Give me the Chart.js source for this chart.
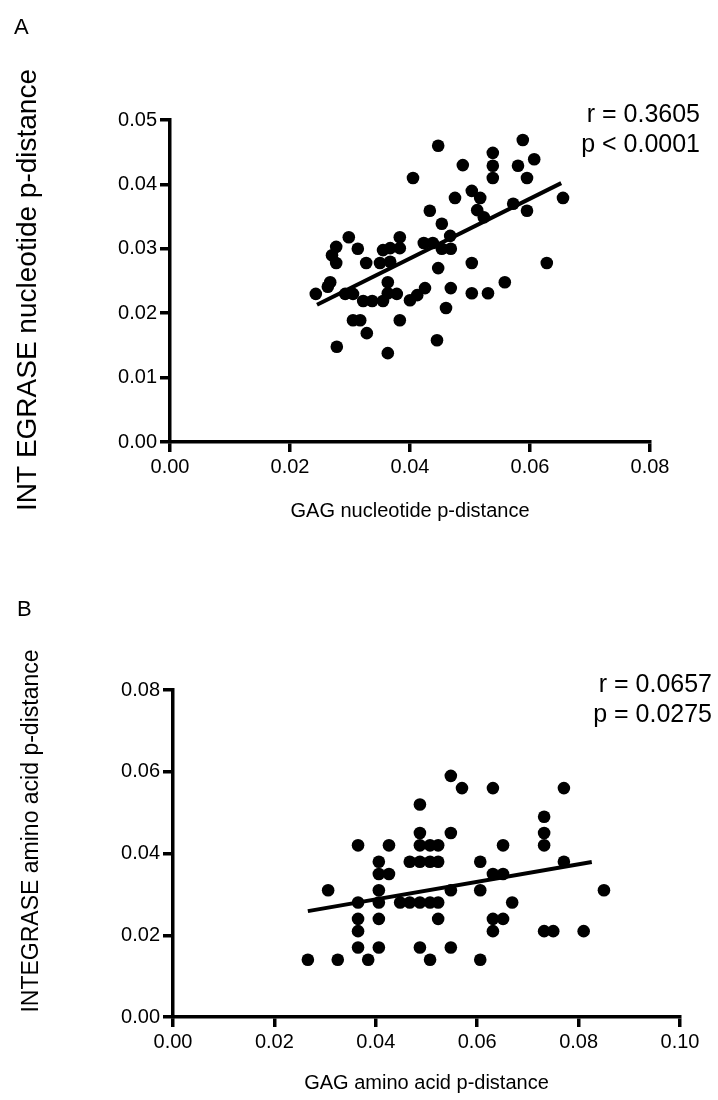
<!DOCTYPE html>
<html>
<head>
  <meta charset="utf-8">
  <title>GAG vs INTEGRASE p-distance</title>
  <script src="https://cdn.jsdelivr.net/npm/chart.js"></script>
  <style>
    body { margin: 0; background: #fff; }
    canvas { display: block; }
  </style>
</head>
<body>
  <canvas id="chartA" width="718" height="550"></canvas>
  <canvas id="chartB" width="718" height="550"></canvas>

  <script>
    // Panel A - nucleotide p-distance
    const gagNt = [0.0447, 0.0588, 0.0538, 0.0538, 0.0538, 0.0488, 0.0580, 0.0607, 0.0595, 0.0405,
      0.0503, 0.0517, 0.0475, 0.0433, 0.0512, 0.0523, 0.0572, 0.0595, 0.0655, 0.0453,
      0.0467, 0.0298, 0.0383, 0.0423, 0.0438, 0.0453, 0.0468, 0.0277, 0.0270, 0.0277,
      0.0313, 0.0327, 0.0355, 0.0367, 0.0383, 0.0350, 0.0367, 0.0503, 0.0628, 0.0447,
      0.0558, 0.0468, 0.0503, 0.0530, 0.0363, 0.0267, 0.0263, 0.0243, 0.0292, 0.0305,
      0.0322, 0.0337, 0.0355, 0.0363, 0.0378, 0.0400, 0.0412, 0.0425, 0.0460, 0.0305,
      0.0317, 0.0383, 0.0328, 0.0278, 0.0363, 0.0445];
    const intNt = [0.0460, 0.0469, 0.0449, 0.0429, 0.0410, 0.0430, 0.0429, 0.0439, 0.0410, 0.0410,
      0.0390, 0.0379, 0.0379, 0.0359, 0.0360, 0.0349, 0.0370, 0.0359, 0.0379, 0.0339,
      0.0320, 0.0318, 0.0318, 0.0309, 0.0309, 0.0300, 0.0300, 0.0303, 0.0290, 0.0278,
      0.0300, 0.0278, 0.0298, 0.0301, 0.0301, 0.0278, 0.0280, 0.0278, 0.0278, 0.0270,
      0.0248, 0.0239, 0.0231, 0.0231, 0.0248, 0.0248, 0.0241, 0.0230, 0.0230, 0.0230,
      0.0219, 0.0219, 0.0219, 0.0231, 0.0230, 0.0220, 0.0228, 0.0239, 0.0208, 0.0189,
      0.0189, 0.0189, 0.0169, 0.0148, 0.0138, 0.0158];
    const fitNtX = [0.0245, 0.0652];
    const fitNtY = [0.0213, 0.0402];
    const ticksNtX = [0, 0.02, 0.04, 0.06, 0.08];
    const ticksNtY = [0, 0.01, 0.02, 0.03, 0.04, 0.05];

    // Panel B - amino acid p-distance
    const gagAa = [0.0266, 0.0306, 0.0325, 0.0365, 0.0365, 0.0365, 0.0365, 0.0365, 0.0385, 0.0406,
      0.0406, 0.0406, 0.0406, 0.0406, 0.0406, 0.0426, 0.0426, 0.0448, 0.0467, 0.0467,
      0.0487, 0.0487, 0.0487, 0.0487, 0.0487, 0.0487, 0.0507, 0.0507, 0.0507, 0.0507,
      0.0523, 0.0523, 0.0523, 0.0523, 0.0548, 0.0548, 0.0548, 0.0548, 0.0570, 0.0606,
      0.0606, 0.0606, 0.0631, 0.0631, 0.0631, 0.0631, 0.0651, 0.0651, 0.0651, 0.0669,
      0.0732, 0.0732, 0.0732, 0.0732, 0.0750, 0.0771, 0.0771, 0.0810, 0.0850];
    const intAa = [0.014, 0.031, 0.014, 0.042, 0.028, 0.024, 0.021, 0.017, 0.014, 0.038,
      0.035, 0.031, 0.028, 0.024, 0.017, 0.042, 0.035, 0.028, 0.038, 0.028,
      0.052, 0.045, 0.042, 0.038, 0.028, 0.017, 0.042, 0.038, 0.028, 0.014,
      0.042, 0.038, 0.028, 0.024, 0.059, 0.045, 0.031, 0.017, 0.056, 0.038,
      0.031, 0.014, 0.056, 0.035, 0.024, 0.021, 0.042, 0.035, 0.024, 0.028,
      0.049, 0.045, 0.042, 0.021, 0.021, 0.056, 0.038, 0.021, 0.031];
    const fitAaX = [0.0266, 0.0826];
    const fitAaY = [0.0259, 0.0379];
    const ticksAaX = [0, 0.02, 0.04, 0.06, 0.08, 0.10];
    const ticksAaY = [0, 0.02, 0.04, 0.06, 0.08];

    const FONT = "'Liberation Sans', Arial, sans-serif";

    // panel letter, rotated y title and r / p annotation
    const panelText = {
      id: 'panelText',
      afterDraw(chart, args, o) {
        const ctx = chart.ctx;
        ctx.save();
        ctx.fillStyle = '#000';
        ctx.textAlign = 'left';
        ctx.font = `22px 'Liberation Sans Narrow', ${FONT}`;
        ctx.fillText(o.letter, o.letterX, o.letterY);
        ctx.textAlign = 'right';
        ctx.font = `25px ${FONT}`;
        o.lines.forEach((t, i) => ctx.fillText(t, o.statX, o.statY + i * o.statGap));
        ctx.translate(o.titleX, o.titleY);
        ctx.rotate(-Math.PI / 2);
        ctx.textAlign = 'center';
        ctx.textBaseline = 'middle';
        ctx.font = `${o.titleSize}px ${FONT}`;
        ctx.fillText(o.title, 0, 0);
        ctx.restore();
      }
    };

    function axis(min, max, ticks, title, titlePad, size, horizontal) {
      return {
        type: 'linear',
        min: min,
        max: max,
        afterBuildTicks: s => { s.ticks = ticks.map(v => ({ value: v })); },
        afterFit: s => { if (horizontal) s.height = size; else s.width = size; },
        border: { display: true, color: '#000', width: 3.5 },
        grid: { drawOnChartArea: false, drawTicks: true, tickLength: 10, color: '#000', lineWidth: 3.5 },
        ticks: {
          color: '#000',
          padding: 3,
          font: { family: FONT, size: 20 },
          callback: v => v.toFixed(2)
        },
        title: {
          display: horizontal,
          text: title,
          color: '#000',
          font: { family: FONT, size: 20 },
          padding: { top: 0, bottom: titlePad }
        }
      };
    }

    function makeChart(id, xs, ys, fx, fy, xAxis, yAxis, padding, text) {
      return new Chart(document.getElementById(id).getContext('2d'), {
        type: 'scatter',
        data: {
          datasets: [
            {
              data: xs.map((x, i) => ({ x: x, y: ys[i] })),
              backgroundColor: '#000',
              borderWidth: 0,
              pointRadius: 6.3
            },
            {
              type: 'line',
              data: fx.map((x, i) => ({ x: x, y: fy[i] })),
              borderColor: '#000',
              borderWidth: 4,
              pointRadius: 0,
              fill: false
            }
          ]
        },
        options: {
          responsive: false,
          animation: false,
          layout: { padding: padding },
          plugins: { legend: { display: false }, tooltip: { enabled: false }, panelText: text },
          scales: { x: xAxis, y: yAxis }
        },
        plugins: [panelText]
      });
    }

    makeChart('chartA', gagNt, intNt, fitNtX, fitNtY,
      axis(0, 0.08, ticksNtX, 'GAG nucleotide p-distance', 27, 108, true),
      axis(0, 0.05, ticksNtY, '', 0, 170, false),
      { top: 120, right: 68, left: 0, bottom: 0 },
      { letter: 'A', letterX: 14, letterY: 34, lines: ['r = 0.3605', 'p < 0.0001'], statX: 700, statY: 122, statGap: 30,
        title: 'INT EGRASE nucleotide p-distance', titleSize: 28, titleX: 28, titleY: 290 });

    makeChart('chartB', gagAa, intAa, fitAaX, fitAaY,
      axis(0, 0.10, ticksAaX, 'GAG amino acid p-distance', 5, 83, true),
      axis(0, 0.08, ticksAaY, '', 0, 173, false),
      { top: 140, right: 38, left: 0, bottom: 0 },
      { letter: 'B', letterX: 17, letterY: 66, lines: ['r = 0.0657', 'p = 0.0275'], statX: 712, statY: 142, statGap: 30,
        title: 'INTEGRASE amino acid p-distance', titleSize: 23, titleX: 32, titleY: 281 });
  </script>
</body>
</html>
